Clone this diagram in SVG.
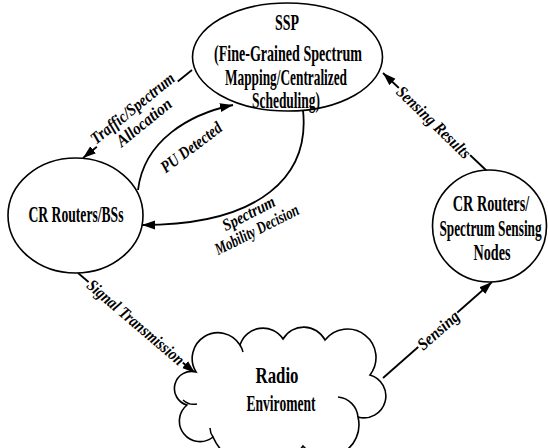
<svg xmlns="http://www.w3.org/2000/svg" width="548" height="448" viewBox="0 0 548 448">
<style>
.node{fill:#fff;stroke:#000;stroke-width:1.6}
.nt{font-family:"Liberation Serif","Times New Roman",serif;font-weight:bold;font-size:23px;fill:#000;text-anchor:middle}
.el{font-family:"Liberation Serif","Times New Roman",serif;font-weight:bold;font-style:italic;font-size:17px;fill:#000;text-anchor:middle}
.edge{fill:none;stroke:#000;stroke-width:1.8}
.bg{fill:#fff;stroke:none}
</style>
<defs>
<marker id="arr" markerUnits="userSpaceOnUse" markerWidth="14" markerHeight="10" refX="13" refY="5" orient="auto">
<path d="M0,0.5 L13,5 L0,9.5 z" fill="#000"/>
</marker>
</defs>
<rect width="548" height="448" fill="#fff"/>
<g id="connectors">
<path class="edge" d="M192,70 L83,158" marker-end="url(#arr)"/>
<path class="edge" d="M138,190 C144,140 190,114 233,105" marker-end="url(#arr)"/>
<path class="edge" d="M303,110 C310,175 262,225 142,225" marker-end="url(#arr)"/>
<path class="edge" d="M488,172 L383,73" marker-end="url(#arr)"/>
<path class="edge" d="M78,273 L195,373" marker-end="url(#arr)"/>
<path class="edge" d="M383,378 L492,282" marker-end="url(#arr)"/>
<g transform="translate(138,115) rotate(-39)">
<rect class="bg" x="-52" y="-19" width="104" height="38"/>
<text class="el" x="0" y="-3" textLength="103" lengthAdjust="spacingAndGlyphs">Traffic/Spectrum</text>
<text class="el" x="0" y="15" textLength="66" lengthAdjust="spacingAndGlyphs">Allocation</text>
</g>
<g transform="translate(191,147) rotate(-37)">
<text class="el" x="0" y="6" textLength="72" lengthAdjust="spacingAndGlyphs">PU Detected</text>
</g>
<g transform="translate(253,222) rotate(-27)">
<text class="el" x="0" y="-4" textLength="57" lengthAdjust="spacingAndGlyphs">Spectrum</text>
<text class="el" x="0" y="14" textLength="92" lengthAdjust="spacingAndGlyphs">Mobility Decision</text>
</g>
<g transform="translate(434,122) rotate(44)">
<rect class="bg" x="-49" y="-10" width="98" height="20"/>
<text class="el" x="0" y="6" textLength="96" lengthAdjust="spacingAndGlyphs">Sensing Results</text>
</g>
<g transform="translate(136,322) rotate(40.5)">
<rect class="bg" x="-62" y="-10" width="124" height="20"/>
<text class="el" x="0" y="6" textLength="122" lengthAdjust="spacingAndGlyphs">Signal Transmission</text>
</g>
<g transform="translate(438,330) rotate(-41.4)">
<rect class="bg" x="-26" y="-10" width="52" height="20"/>
<text class="el" x="0" y="6" textLength="50" lengthAdjust="spacingAndGlyphs">Sensing</text>
</g>
</g>
<g id="ssp">
<ellipse class="node" cx="287.5" cy="57" rx="95" ry="54"/>
<text class="nt" x="287" y="30" textLength="24" lengthAdjust="spacingAndGlyphs">SSP</text>
<text class="nt" x="288" y="61" textLength="148" lengthAdjust="spacingAndGlyphs">(Fine-Grained Spectrum</text>
<text class="nt" x="286" y="85" textLength="122" lengthAdjust="spacingAndGlyphs">Mapping/Centralized</text>
<text class="nt" x="286" y="108" textLength="68" lengthAdjust="spacingAndGlyphs">Scheduling)</text>
</g>
<g id="cr-bss">
<ellipse class="node" cx="75.5" cy="215.5" rx="67.5" ry="57.5"/>
<text class="nt" x="76" y="222" textLength="95" lengthAdjust="spacingAndGlyphs">CR Routers/BSs</text>
</g>
<g id="cr-sensing">
<ellipse class="node" cx="489.5" cy="226" rx="57" ry="56"/>
<text class="nt" transform="translate(491,211) scale(0.62,1)" x="0" y="0">CR Routers/</text>
<text class="nt" transform="translate(490.5,236) scale(0.578,1)" x="0" y="0">Spectrum Sensing</text>
<text class="nt" x="492" y="260" textLength="37" lengthAdjust="spacingAndGlyphs">Nodes</text>
</g>
<g id="radio">
<path class="node" d="M196,372 A22,22 0 0 1 240,345 A24,24 0 0 1 283,339 A24,24 0 0 1 325,340 A26,26 0 0 1 370,375 A21,21 0 0 1 358,417 A32,32 0 0 1 303,446 A52,52 0 0 1 213,437 A20,20 0 0 1 187,405 A17,17 0 0 1 196,372 Z"/>
<path class="edge" style="stroke-width:1.5" d="M338,397 A22,22 0 0 1 358,417"/>
<path class="edge" style="stroke-width:1.5" d="M183,400 A16,16 0 0 0 197,404"/>
<path class="edge" style="stroke-width:1.5" d="M240,345 A22,22 0 0 1 243,352"/>
<path class="edge" style="stroke-width:1.5" d="M213,437 A16,16 0 0 1 210,428"/>
<text class="nt" x="277" y="383" textLength="43" lengthAdjust="spacingAndGlyphs">Radio</text>
<text class="nt" x="281" y="411" textLength="69" lengthAdjust="spacingAndGlyphs">Enviroment</text>
</g>
</svg>
